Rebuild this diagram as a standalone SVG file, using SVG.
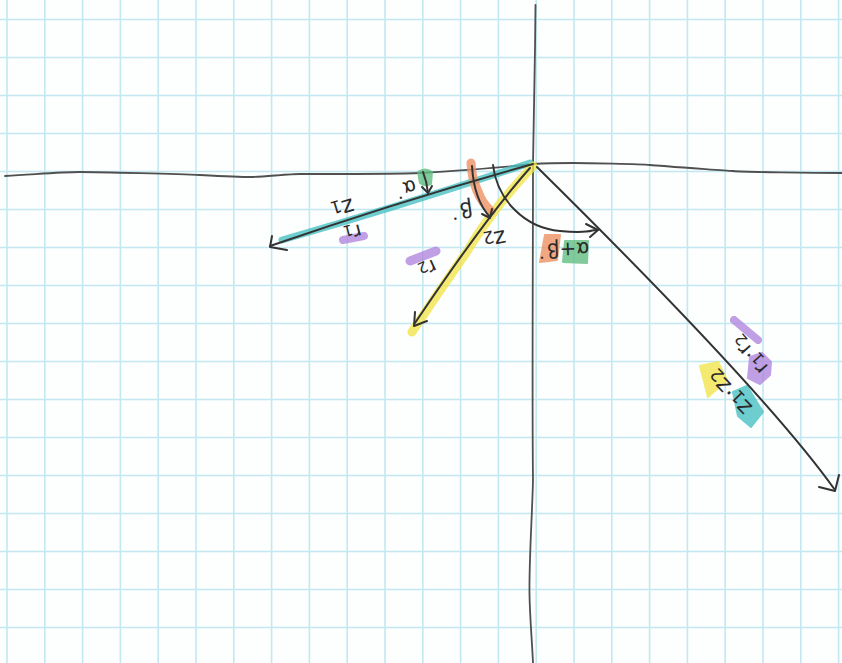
<svg xmlns="http://www.w3.org/2000/svg" width="842" height="663" viewBox="0 0 842 663">
<style>
.grid{stroke:#c2e8f1;stroke-width:1.6;fill:none}
.axis{stroke:#505050;stroke-width:1.8;fill:none;stroke-linecap:round;stroke-linejoin:round}
.ink{stroke:#333;stroke-width:2;fill:none;stroke-linecap:round;stroke-linejoin:round}
.hl{stroke-linecap:round;stroke-linejoin:round;fill:none;opacity:.78}
.box{opacity:.78;stroke-linejoin:round;stroke-width:2}
.teal{stroke:#45c0c2;fill:#45c0c2}
.yel{stroke:#f2e54a;fill:#f2e54a}
.org{stroke:#ee9060;fill:#ee9060}
.grn{stroke:#5fbd80;fill:#5fbd80}
.pur{stroke:#b185de;fill:#b185de}
.lbl{font-family:"DejaVu Sans","Liberation Sans",sans-serif;fill:#2a2a2a;text-anchor:middle;dominant-baseline:central}
.sub{font-size:75%}
</style>
<rect width="842" height="663" fill="#fdfefe"/>
<g id="grid">
<path class="grid" d="M7,0V663M44.8,0V663M82.6,0V663M120.4,0V663M158.2,0V663M196,0V663M233.8,0V663M271.6,0V663M309.4,0V663M347.2,0V663M385,0V663M422.8,0V663M460.6,0V663M498.4,0V663M536.2,0V663M574,0V663M611.8,0V663M649.6,0V663M687.4,0V663M725.2,0V663M763,0V663M800.8,0V663M838.6,0V663M0,19.5H842M0,57.5H842M0,95.5H842M0,133.5H842M0,171.5H842M0,209.5H842M0,247.5H842M0,285.5H842M0,323.5H842M0,361.5H842M0,399.5H842M0,437.5H842M0,475.5H842M0,513.5H842M0,551.5H842M0,589.5H842M0,627.5H842"/>
</g>
<g id="axes">
<path id="x-axis" class="axis" d="M5,176 C40,174 60,172 80,172 S180,174 200,175 S240,177 250,177 S290,174 300,174 S400,174 420,173 S500,168 533,164 C550,163 560,163 573,163 S640,164 650,165 S720,170 733,171 S810,173 842,173"/>
<path id="y-axis" class="axis" d="M535.5,5 C535,60 534,120 533,164 C533,260 532,400 533,480 C532,520 529,560 529.5,595 C530,620 532,640 533,663"/>
</g>
<g id="highlights">
<path class="hl teal" stroke-width="7" d="M282,240 Q400,206 530,163"/>
<path class="hl yel" stroke-width="9" d="M533,166 Q490,212 468,250 Q440,290 412,332"/>
<path class="hl org" stroke-width="9" d="M471,163 Q473,195 491,211"/>
<path class="box grn" d="M418,172 Q425,167 432,172 L431,184 Q425,187 420,183 Z"/>
<path class="hl pur" stroke-width="8" d="M343,240 L364,236"/>
<path class="hl pur" stroke-width="9" d="M410,261 L436,251"/>
<polygon class="box org" points="545,235 560,235 557,260 540,262"/>
<polygon class="box grn" points="565,241 588,241 587,263 563,262"/>
<path class="hl pur" stroke-width="8" d="M734,320 L758,340"/>
<polygon class="box pur" points="750,357 762,353 771,362 770,375 760,384 748,378"/>
<polygon class="box yel" points="700,366 718,362 727,380 708,397"/>
<polygon class="box teal" points="733,392 747,386 763,412 751,427 738,416"/>
</g>
<g id="connectors">
<g id="vector-z1">
<path class="ink" d="M533,164 Q400,201 270,246"/>
<path class="ink" d="M272,236 L270,247 L287,250"/>
</g>
<g id="vector-z2">
<path class="ink" d="M530,168 Q486.7,216.3 415,323"/>
<path class="ink" d="M415,312 L414,326 L427,321"/>
</g>
<g id="vector-product">
<path class="ink" d="M537,167 Q766,393 835,490"/>
<path class="ink" d="M819,487 L835,491 L839,475"/>
</g>
<g id="arc-alpha">
<path class="ink" d="M423,172 Q427,182 428,193"/>
<path class="ink" d="M422,187 L428,193 L432,186"/>
</g>
<g id="arc-beta">
<path class="ink" d="M472,166 Q474,200 490,217"/>
<path class="ink" d="M482,214 L490,218 L492,209"/>
</g>
<g id="arc-sum">
<path class="ink" d="M493,165 C497,200 525,228 560,231 S590,229 598,230"/>
<path class="ink" d="M586,224 L598,230 L590,237"/>
</g>
</g>
<g id="label-z1"><text class="lbl" font-size="23" transform="translate(343,209) rotate(163)">z<tspan class="sub" dy="4">1</tspan></text></g>
<g id="label-r1"><text class="lbl" font-size="20" transform="translate(353,233) rotate(165)">r<tspan class="sub" dy="4">1</tspan></text></g>
<g id="label-alpha"><text class="lbl" font-size="20" transform="translate(405,189) rotate(163)">α˙</text></g>
<g id="label-beta"><text class="lbl" font-size="21" transform="translate(461,210) rotate(172)">β˙</text></g>
<g id="label-z2"><text class="lbl" font-size="23" transform="translate(495,240) rotate(168)">z<tspan class="sub" dy="4">2</tspan></text></g>
<g id="label-r2"><text class="lbl" font-size="20" transform="translate(428,269) rotate(155)">r<tspan class="sub" dy="4">2</tspan></text></g>
<g id="label-sum"><text class="lbl" font-size="20" transform="translate(563,250) rotate(178)">α+β˙</text></g>
<g id="label-r1r2"><text class="lbl" font-size="21" transform="translate(749,355) rotate(228)">r<tspan class="sub" dy="4">1</tspan><tspan dy="-4">·r</tspan><tspan class="sub" dy="4">2</tspan></text></g>
<g id="label-z1z2"><text class="lbl" font-size="23" transform="translate(729,393) rotate(226)">z<tspan class="sub" dy="4">1</tspan><tspan dy="-4">·z</tspan><tspan class="sub" dy="4">2</tspan></text></g>
</svg>
